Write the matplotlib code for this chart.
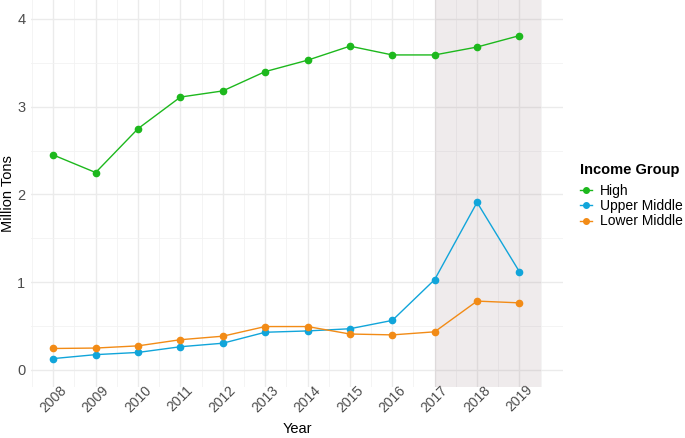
import numpy as np
import matplotlib.pyplot as plt
import matplotlib.transforms as mtransforms
from matplotlib.lines import Line2D

plt.rcParams['font.family'] = ['Liberation Sans', 'DejaVu Sans']

years = [2008, 2009, 2010, 2011, 2012, 2013, 2014, 2015, 2016, 2017, 2018, 2019]
high = [2.45, 2.25, 2.75, 3.11, 3.18, 3.40, 3.53, 3.69, 3.59, 3.59, 3.68, 3.81]
upper_middle = [0.13, 0.175, 0.20, 0.265, 0.305, 0.43, 0.445, 0.47, 0.565, 1.03, 1.91, 1.12]
lower_middle = [0.245, 0.25, 0.275, 0.345, 0.385, 0.495, 0.495, 0.41, 0.40, 0.435, 0.785, 0.765]

series = [("High", high, "#1DB81D"),
          ("Upper Middle", upper_middle, "#11A5DA"),
          ("Lower Middle", lower_middle, "#F28B16")]

fig = plt.figure(figsize=(6.85, 4.38), dpi=100)
ax = fig.add_axes([0.045, 0.1164, 0.777, 0.8836])

ax.set_xlim(2007.47, 2020.03)
ax.set_ylim(-0.194, 4.216)
ax.set_xticks(years)
ax.set_xticklabels([str(y) for y in years], rotation=45, ha="center", fontsize=10, color="#4D4D4D")
shift = mtransforms.ScaledTranslation(5 / 100, 0, fig.dpi_scale_trans)
for lbl in ax.get_xticklabels():
    lbl.set_transform(lbl.get_transform() + shift)
ax.set_xticks(np.arange(2007.5, 2020.5, 1), minor=True)
ax.set_yticks([0, 1, 2, 3, 4])
ax.set_yticklabels(["0", "1", "2", "3", "4"], fontsize=10.5, color="#4D4D4D")
ax.set_yticks([0.5, 1.5, 2.5, 3.5], minor=True)
ax.tick_params(axis="y", which="both", length=0, pad=4)
ax.tick_params(axis="x", which="both", length=0, pad=-3)
ax.grid(which="major", color="#EBEBEB", lw=1.0, zorder=0)
ax.grid(which="minor", color="#F2F2F2", lw=0.6, zorder=0)
for s in ax.spines.values():
    s.set_visible(False)
ax.set_axisbelow(True)

# shaded period, semi-transparent so the grid shows through
ax.axvspan(2017, 2019.5, facecolor=(0.58, 0.48, 0.51), alpha=0.15, zorder=1, lw=0)

for name, vals, col in series:
    ax.plot(years, vals, color=col, lw=1.0, marker="o", ms=4.5, label=name, zorder=3)

ax.set_xlabel("Year", fontsize=10.5, va="center")
ax.xaxis.set_label_coords(0.5, -0.109)
ax.set_ylabel("Million Tons", fontsize=10.5, va="center")
ax.yaxis.set_label_coords(-0.043, 0.5)

handles = [Line2D([0], [0], color=c, lw=1.0, marker="o", ms=4.0) for _, _, c in series]
leg = fig.legend(handles, [n for n, _, _ in series], title="Income Group",
                 loc="upper left", bbox_to_anchor=(0.846, 0.627), frameon=False,
                 fontsize=10, handlelength=0.9, handletextpad=0.55, labelspacing=0.1,
                 borderpad=0, borderaxespad=0)
leg.get_title().set_fontweight("bold")
leg.get_title().set_fontsize(10.5)
leg._legend_box.align = "left"
leg._legend_box.sep = 4.5

fig.savefig("out.png", dpi=100)
